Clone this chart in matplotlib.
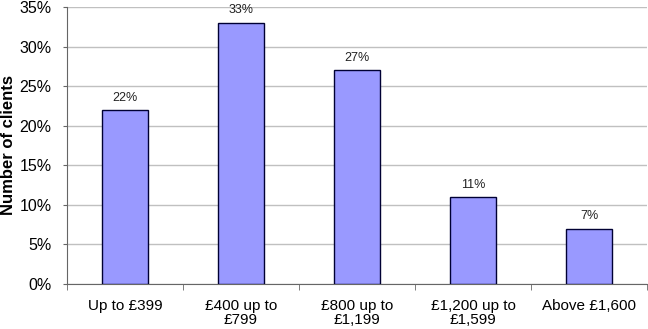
import matplotlib
matplotlib.use("Agg")
import matplotlib.pyplot as plt
import numpy as np

categories = ["Up to £399", "£400 up to\n£799", "£800 up to\n£1,199", "£1,200 up to\n£1,599", "Above £1,600"]
values = [22, 33, 27, 11, 7]
yticks = [0, 5, 10, 15, 20, 25, 30, 35]

plt.rcParams['font.family'] = ['Liberation Sans', 'DejaVu Sans']

fig = plt.figure(figsize=(6.48, 3.29), dpi=100)
ax = fig.add_axes([67/648, 1-284/329, 580/648, (284-7)/329])

x = np.arange(len(categories))
ax.bar(x, values, width=0.4, color="#9999FF", edgecolor="#000033", linewidth=1.0, zorder=3)
for xi, v in zip(x, values):
    ax.text(xi, v + 0.8, f"{v}%", ha="center", va="bottom", fontsize=9, color="#222222")

ax.set_xlim(-0.5, len(categories) - 0.5)
ax.set_ylim(0, 35)
ax.set_yticks(yticks)
ax.set_yticklabels([f"{t}%" for t in yticks], fontsize=11.5)
ax.yaxis.grid(True, color="#c0c0c0", linewidth=1.0, zorder=0)

ax.set_xticks(x)
ax.set_xticklabels(categories, fontsize=11, linespacing=1.0)
ax.tick_params(axis="x", length=0, pad=11)
ax.set_xticks(np.arange(-0.5, len(categories), 1), minor=True)
ax.tick_params(axis="x", which="minor", length=4, color="#666666")
ax.tick_params(axis="y", length=3, color="#666666", pad=8)

for s in ["top", "right"]:
    ax.spines[s].set_visible(False)
for s in ["left", "bottom"]:
    ax.spines[s].set_color("#666666")

fig.text(9/648, 1 - 145/329, "Number of clients",
         rotation=90, ha="center", va="center", fontsize=12, fontweight="bold")

fig.savefig("out.png", dpi=100)
